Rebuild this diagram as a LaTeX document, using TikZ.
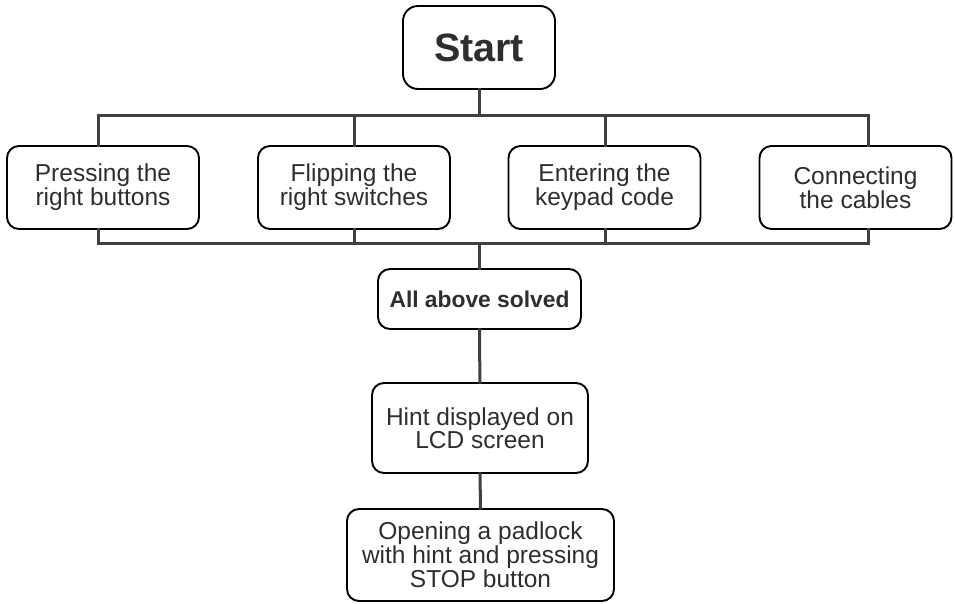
\documentclass[tikz,border=0pt]{standalone}
\usepackage{fontspec}
\setmainfont{Liberation Sans}
\usepackage{xcolor}
\usetikzlibrary{positioning}
\definecolor{txtgray}{HTML}{2E2E2E}
\definecolor{linegray}{HTML}{404040}
\tikzset{
  box/.style={draw=black, line width=1.9pt, rounded corners=12pt, align=center,
              text=txtgray, inner sep=0pt, font=\fontsize{24.5}{21.5}\selectfont},
  link/.style={draw=linegray, line width=3pt, line cap=rect}
}

\begin{document}
\begin{tikzpicture}[x=1pt, y=-1pt]
\useasboundingbox (0,0) rectangle (955,603);
\node[box, rounded corners=15pt, minimum width=152pt, minimum height=83pt,
      font=\bfseries\fontsize{39.5}{40}\selectfont] (start) at (479,47.5) {Start};
% four tasks
\foreach \n/\x/\bx/\lab in {press/103/98/{Pressing the\\right buttons},
                            flip/354/354/{Flipping the\\right switches},
                            keypad/604.5/605/{Entering the\\keypad code},
                            cable/855.5/868/{Connecting\\the cables}} {
  \node[box, minimum width=192pt, minimum height=83pt] (\n) at (\x,187.5) {\lab};
  \coordinate (t\n) at (\bx,115);
  \coordinate (u\n) at (\bx,243);
  \draw[link] (t\n) -- (t\n |- \n.north);
  \draw[link] (\n.south -| u\n) -- (u\n);
}
\node[box, minimum width=203pt, minimum height=60pt,
      font=\bfseries\fontsize{22.8}{22}\selectfont] (solved) at (479.5,299) {All above solved};
\node[box, minimum width=216pt, minimum height=90pt] (hint) at (480,428) {Hint displayed on\\LCD screen};
\node[box, minimum width=267pt, minimum height=92pt] (padlock) at (480.5,555) {Opening a padlock\\with hint and pressing\\STOP button};
% buses
\draw[link] (tpress) -- (tcable);
\draw[link] (upress) -- (ucable);
\draw[link] (start.south) -- (start.south |- tpress);
\draw[link] (solved.north |- upress) -- (solved.north);
\draw[link] (solved) -- (hint);
\draw[link] (hint) -- (padlock);
\end{tikzpicture}
\end{document}
